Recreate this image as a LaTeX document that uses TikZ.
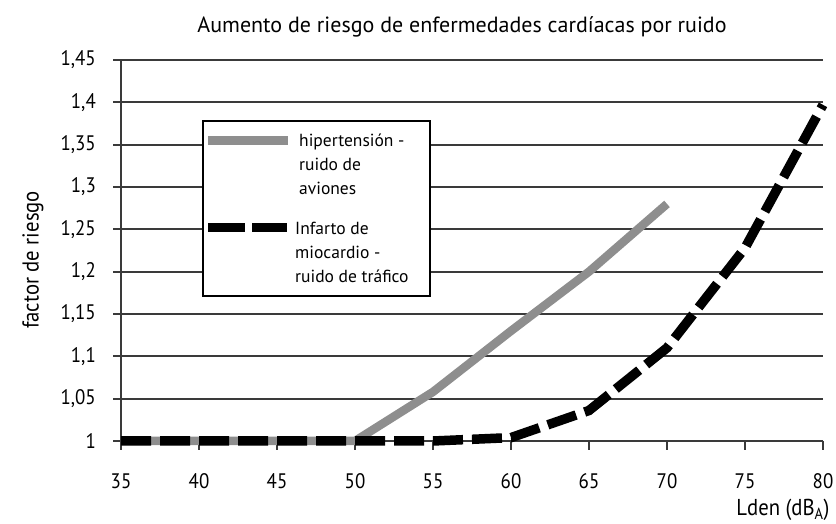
\documentclass[tikz,border=0pt]{standalone}
\usepackage{fontspec}
\setmainfont{PT Sans}
\newfontfamily\narrowsans[FakeStretch=0.9]{PT Sans}
\usepackage{tikz}
\definecolor{gridcol}{HTML}{3A3A3A}
\definecolor{avion}{HTML}{8E8E8E}
\tikzset{
  gridline/.style={gridcol, line width=2pt},
  ticklab/.style={font=\narrowsans\fontsize{21}{24}\selectfont, inner sep=0pt},
  avionline/.style={avion, line width=8.5pt},
  traficoline/.style={black, line width=9.5pt, dash pattern=on 30pt off 9pt},
  legtext/.style={font=\fontsize{17.5}{24}\selectfont, align=left, anchor=west, inner sep=0pt}
}

\begin{document}
\begin{tikzpicture}
  \useasboundingbox (0,0) rectangle (836pt,524pt);
  \node[font=\fontsize{22}{26}\selectfont] (title) at (462pt,497pt)
    {Aumento de riesgo de enfermedades cardíacas por ruido};
  \node[font=\narrowsans\fontsize{23}{26}\selectfont, rotate=90] (ylabel) at (33pt,264pt) {factor de riesgo};
  \node[font=\narrowsans\fontsize{23}{26}\selectfont, anchor=east] (xlabel) at (833pt,14pt) {Lden (dB\textsubscript{A})};

  \begin{scope}[x=15.6pt, y=846.7pt, shift={(-425pt,-763.7pt)}]
    % grid and y axis
    \foreach \f/\lab in {1/1,1.05/{1,05},1.1/{1,1},1.15/{1,15},1.2/{1,2},1.25/{1,25},1.3/{1,3},1.35/{1,35},1.4/{1,4},1.45/{1,45}}{
      \draw[gridline] ([xshift=-8pt]35,\f) -- (80,\f);
      \node[ticklab, anchor=east] at ([xshift=-25pt]35,\f) {\lab};
    }
    \draw[gridline] (35,1) -- (35,1.45);
    % x ticks
    \foreach \x in {35,40,...,80}{
      \draw[gridline] (\x,1) -- ([yshift=-9pt]\x,1);
      \node[ticklab] at ([yshift=-40pt]\x,1) {\x};
    }
    % curves
    \draw[avionline] (35,1) -- (50,1) -- (55,1.058) -- (60,1.13) -- (65,1.2) -- (70,1.28);
    \draw[traficoline] (35,1) -- (40,1) -- (45,1) -- (50,1) -- (55,1) -- (60,1.004)
      -- (65,1.036) -- (70,1.11) -- (75,1.228) -- (80,1.397);
  \end{scope}

  % legend
  \draw[black, line width=1.5pt, fill=white] (203pt,228pt) rectangle (430pt,403pt);
  \draw[avion, line width=9pt] (208pt,383pt) -- (288pt,383pt);
  \draw[black, line width=9pt, dash pattern=on 37pt off 7pt] (208pt,296pt) -- (287pt,296pt);
  \node[legtext] (leg1) at (299pt,360pt) {hipertensión -\\ruido de\\aviones};
  \node[legtext] (leg2) at (295pt,272pt) {Infarto de\\miocardio -\\ruido de tráfico};
\end{tikzpicture}
\end{document}
